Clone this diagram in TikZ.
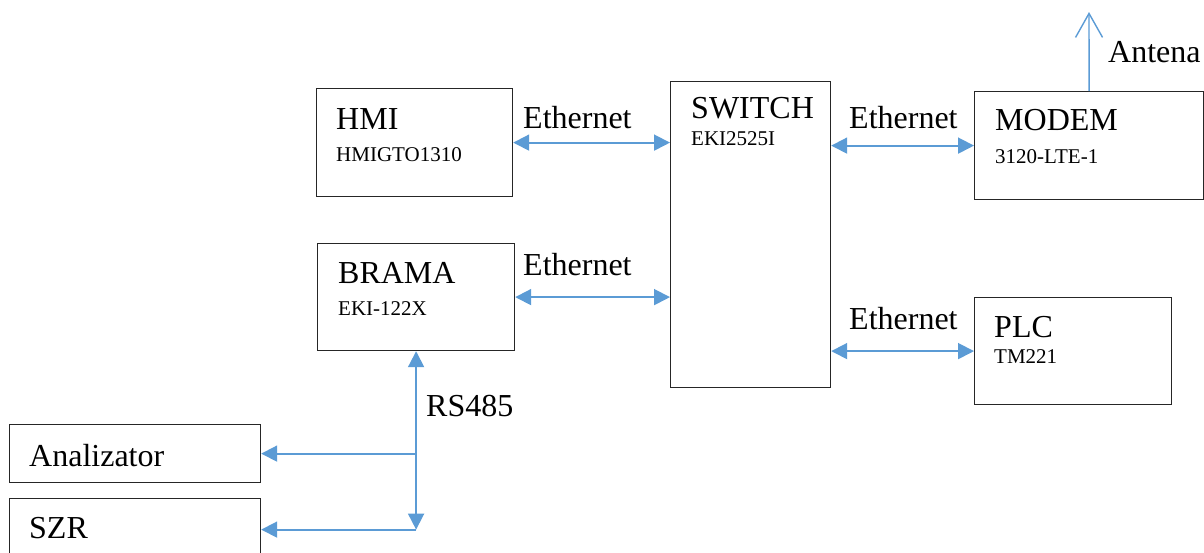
\documentclass[tikz,border=0pt]{standalone}
\usepackage{fontspec}
\setmainfont{Liberation Serif}
\usetikzlibrary{positioning, arrows.meta}
\definecolor{linkblue}{HTML}{5B9BD5}
\tikzset{
  box/.style={draw=black!85, line width=1.2pt, inner sep=0pt, anchor=north west},
  big/.style={font=\fontsize{32}{38}\selectfont, inner sep=0pt, anchor=base west},
  small/.style={font=\fontsize{21}{25}\selectfont, inner sep=0pt, anchor=base west},
  link/.style={draw=linkblue, line width=1.8pt, {Triangle[length=16pt,width=16pt]}-{Triangle[length=16pt,width=16pt]}},
  linkto/.style={draw=linkblue, line width=1.8pt, -{Triangle[length=16pt,width=16pt]}},
  antline/.style={draw=linkblue, line width=1.4pt, -{Straight Barb[length=24pt,width=27pt]}}
}

\begin{document}
\begin{tikzpicture}[x=1pt, y=-1pt]
  \useasboundingbox (0,0) rectangle (1204,552);

  % Boxes
  \node[box, minimum width=196pt, minimum height=108pt] (hmi) at (316,88) {};
  \node[box, minimum width=197pt, minimum height=107pt] (brama) at (317,243) {};
  \node[box, minimum width=160pt, minimum height=306pt] (switch) at (670,81) {};
  \node[box, minimum width=229pt, minimum height=108pt] (modem) at (974,91) {};
  \node[box, minimum width=197pt, minimum height=107pt] (plc) at (974,297) {};
  \node[box, minimum width=251pt, minimum height=58pt] (analizator) at (9,424) {};
  \node[box, minimum width=251pt, minimum height=62pt] (szr) at (9,498) {};

  % Box texts
  \node[big] (hminame) at (336,129) {HMI};
  \node[small] (hmitype) at (336,161) {HMIGTO1310};
  \node[big] (bramaname) at (338,283) {BRAMA};
  \node[small] (bramatype) at (338,315) {EKI-122X};
  \node[big] (switchname) at (691,118) {SWITCH};
  \node[small] (switchtype) at (691,145) {EKI2525I};
  \node[big] (modemname) at (995,130) {MODEM};
  \node[small] (modemtype) at (995,163) {3120-LTE-1};
  \node[big] (plcname) at (994,337) {PLC};
  \node[small] (plctype) at (994,363) {TM221};
  \node[big] (analizatorname) at (29,466) {Analizator};
  \node[big] (szrname) at (29,538) {SZR};

  % Connector labels
  \node[big] (eth1) at (523,128) {Ethernet};
  \node[big] (eth2) at (523,275) {Ethernet};
  \node[big] (eth3) at (849,128) {Ethernet};
  \node[big] (eth4) at (849,329) {Ethernet};
  \node[big] (rs) at (426,416) {RS485};
  \node[big] (antena) at (1108,62) {Antena};

  % Ethernet links
  \draw[link] (hmi.east) -- (hmi.east -| switch.west);
  \draw[link] (brama.east) -- (brama.east -| switch.west);
  \draw[link] (switch.east |- modem.west) -- (modem.west);
  \draw[link] (switch.east |- plc.west) -- (plc.west);

  % RS485 bus
  \coordinate (busend) at (brama.south |- szr.east);
  \draw[link] (brama.south) -- (busend);
  \draw[linkto] (brama.south |- analizator.east) -- (analizator.east);
  \draw[linkto] (busend) -- (szr.east);

  % Antenna
  \coordinate (antenatip) at (1089,12);
  \draw[antline] (modem.north) -- (antenatip);
\end{tikzpicture}
\end{document}
